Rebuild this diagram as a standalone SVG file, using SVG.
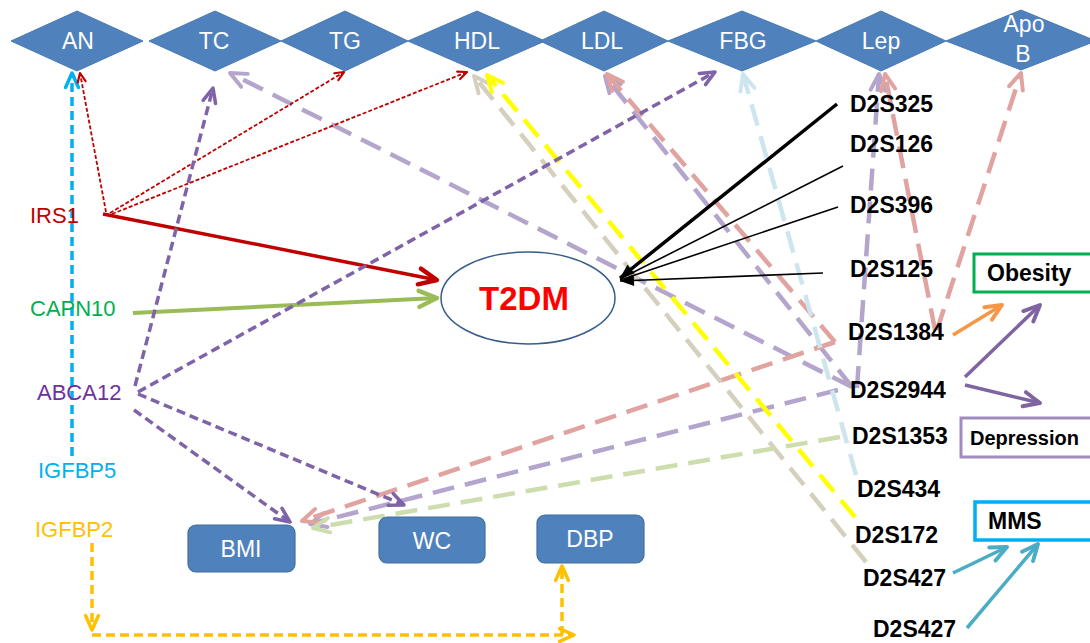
<svg xmlns="http://www.w3.org/2000/svg" width="1090" height="643" viewBox="0 0 1090 643">
<style>
.dia{fill:#4F81BD;stroke:#4A7AB5;stroke-width:1}
.box{fill:#4F81BD;stroke:#41719C;stroke-width:1.2}
.wt{font-family:"Liberation Sans",Arial,sans-serif;font-size:23px;fill:#FFFFFF;text-anchor:middle}
.lbl{font-family:"Liberation Sans",Arial,sans-serif;font-size:22px}
.mk{font-family:"Liberation Sans",Arial,sans-serif;font-size:23px;font-weight:bold;fill:#000000}
.ln{fill:none}
.pastel{fill:none;stroke-width:4.5;stroke-dasharray:22 11}
.dpur{fill:none;stroke:#7F63A8;stroke-width:3.5;stroke-dasharray:9 5}
.rdot{fill:none;stroke:#C00000;stroke-width:1.8;stroke-dasharray:4 2}
.mh{fill:none;stroke-width:2.2;stroke-linecap:round;stroke-linejoin:round}
</style>
<defs>
<marker id="aRed" viewBox="0 0 10 10" refX="10" refY="5" markerUnits="userSpaceOnUse" markerWidth="20" markerHeight="20" orient="auto" overflow="visible"><path class="mh" d="M1,1 L10,5 L1,9" stroke="#C00000"/></marker>
<marker id="aRedS" viewBox="0 0 10 10" refX="10" refY="5" markerUnits="userSpaceOnUse" markerWidth="10" markerHeight="10" orient="auto" overflow="visible"><path class="mh" d="M1,1 L10,5 L1,9" stroke="#C00000"/></marker>
<marker id="aGrn" viewBox="0 0 10 10" refX="10" refY="5" markerUnits="userSpaceOnUse" markerWidth="20" markerHeight="20" orient="auto" overflow="visible"><path class="mh" d="M1,1 L10,5 L1,9" stroke="#9BBB59"/></marker>
<marker id="aDp" viewBox="0 0 10 10" refX="10" refY="5" markerUnits="userSpaceOnUse" markerWidth="16" markerHeight="16" orient="auto" overflow="visible"><path class="mh" d="M1,1 L10,5 L1,9" stroke="#7F63A8"/></marker>
<marker id="aCy" viewBox="0 0 10 10" refX="10" refY="5" markerUnits="userSpaceOnUse" markerWidth="16" markerHeight="16" orient="auto" overflow="visible"><path class="mh" d="M1,1 L10,5 L1,9" stroke="#00B0F0"/></marker>
<marker id="aYo" viewBox="0 0 10 10" refX="10" refY="5" markerUnits="userSpaceOnUse" markerWidth="16" markerHeight="16" orient="auto" overflow="visible"><path class="mh" d="M1,1 L10,5 L1,9" stroke="#FFC000"/></marker>
<marker id="aBlk" viewBox="0 0 10 10" refX="10" refY="5" markerUnits="userSpaceOnUse" markerWidth="14" markerHeight="14" orient="auto" overflow="visible"><path d="M0,1 L10,5 L0,9 Z" fill="#000000"/></marker>
<marker id="aLp" viewBox="0 0 10 10" refX="10" refY="5" markerUnits="userSpaceOnUse" markerWidth="18" markerHeight="18" orient="auto" overflow="visible"><path class="mh" d="M1,1 L10,5 L1,9" stroke="#B4A5CC"/></marker>
<marker id="aPk" viewBox="0 0 10 10" refX="10" refY="5" markerUnits="userSpaceOnUse" markerWidth="18" markerHeight="18" orient="auto" overflow="visible"><path class="mh" d="M1,1 L10,5 L1,9" stroke="#E0A3A0"/></marker>
<marker id="aLb" viewBox="0 0 10 10" refX="10" refY="5" markerUnits="userSpaceOnUse" markerWidth="18" markerHeight="18" orient="auto" overflow="visible"><path class="mh" d="M1,1 L10,5 L1,9" stroke="#CDE5EE"/></marker>
<marker id="aYl" viewBox="0 0 10 10" refX="10" refY="5" markerUnits="userSpaceOnUse" markerWidth="18" markerHeight="18" orient="auto" overflow="visible"><path class="mh" d="M1,1 L10,5 L1,9" stroke="#FFFF00"/></marker>
<marker id="aBg" viewBox="0 0 10 10" refX="10" refY="5" markerUnits="userSpaceOnUse" markerWidth="18" markerHeight="18" orient="auto" overflow="visible"><path class="mh" d="M1,1 L10,5 L1,9" stroke="#D5D0BE"/></marker>
<marker id="aLg" viewBox="0 0 10 10" refX="10" refY="5" markerUnits="userSpaceOnUse" markerWidth="18" markerHeight="18" orient="auto" overflow="visible"><path class="mh" d="M1,1 L10,5 L1,9" stroke="#CDDDAE"/></marker>
<marker id="aOr" viewBox="0 0 10 10" refX="10" refY="5" markerUnits="userSpaceOnUse" markerWidth="18" markerHeight="18" orient="auto" overflow="visible"><path class="mh" d="M1,1 L10,5 L1,9" stroke="#F79646"/></marker>
<marker id="aPu" viewBox="0 0 10 10" refX="10" refY="5" markerUnits="userSpaceOnUse" markerWidth="18" markerHeight="18" orient="auto" overflow="visible"><path class="mh" d="M1,1 L10,5 L1,9" stroke="#8064A2"/></marker>
<marker id="aTl" viewBox="0 0 10 10" refX="10" refY="5" markerUnits="userSpaceOnUse" markerWidth="18" markerHeight="18" orient="auto" overflow="visible"><path class="mh" d="M1,1 L10,5 L1,9" stroke="#4BACC6"/></marker>
</defs>
<rect width="1090" height="643" fill="#FFFFFF"/>

<g id="diamonds">
<g id="AN"><polygon class="dia" points="11,41 77,11 143,41 77,71"/><text class="wt" x="78" y="49">AN</text></g>
<g id="TC"><polygon class="dia" points="149,41 215,11 281,41 215,71"/><text class="wt" x="214" y="49">TC</text></g>
<g id="TG"><polygon class="dia" points="281,41 345,11 408,41 345,71"/><text class="wt" x="345" y="49">TG</text></g>
<g id="HDL"><polygon class="dia" points="408,41 477,11 545,41 477,71"/><text class="wt" x="477" y="49">HDL</text></g>
<g id="LDL"><polygon class="dia" points="540,41 604,11 668,41 604,71"/><text class="wt" x="602" y="49">LDL</text></g>
<g id="FBG"><polygon class="dia" points="668,41 742,11 816,41 742,71"/><text class="wt" x="743" y="49">FBG</text></g>
<g id="Lep"><polygon class="dia" points="816,41 881,11 946,41 881,71"/><text class="wt" x="881" y="49">Lep</text></g>
<g id="ApoB"><polygon class="dia" points="946,41 1021,10 1096,41 1021,70"/><text class="wt" x="1024" y="32">Apo</text><text class="wt" x="1023" y="62">B</text></g>
</g>

<g id="connectors">
<line class="pastel" x1="852" y1="387" x2="230" y2="73" stroke="#B4A5CC" marker-end="url(#aLp)"/>
<line class="pastel" x1="852" y1="387" x2="605" y2="76" stroke="#B4A5CC" marker-end="url(#aLp)"/>
<line class="pastel" x1="857" y1="388" x2="879" y2="74" stroke="#B4A5CC" marker-end="url(#aLp)"/>
<line class="pastel" x1="838" y1="390" x2="310" y2="524" stroke="#B4A5CC" marker-end="url(#aLp)"/>
<line class="pastel" x1="835" y1="342" x2="607" y2="74" stroke="#E0A3A0" marker-end="url(#aPk)"/>
<line class="pastel" x1="835" y1="342" x2="302" y2="521" stroke="#E0A3A0" marker-end="url(#aPk)"/>
<line class="pastel" x1="935" y1="330" x2="885" y2="74" stroke="#E0A3A0" marker-end="url(#aPk)"/>
<line class="pastel" x1="937" y1="330" x2="1021" y2="73" stroke="#E0A3A0" marker-end="url(#aPk)"/>
<line class="pastel" x1="856" y1="475" x2="743" y2="74" stroke="#CDE5EE" marker-end="url(#aLb)"/>
<line class="pastel" x1="866" y1="562" x2="474" y2="76" stroke="#D5D0BE" marker-end="url(#aBg)"/>
<line class="pastel" x1="855" y1="517" x2="487" y2="75" stroke="#FFFF00" marker-end="url(#aYl)"/>
<line class="pastel" x1="840" y1="437" x2="313" y2="528" stroke="#CDDDAE" marker-end="url(#aLg)"/>
<line class="ln" x1="72" y1="456" x2="72" y2="73" stroke="#00B0F0" stroke-width="3.5" stroke-dasharray="9 5" marker-end="url(#aCy)"/>
<line class="rdot" x1="106" y1="212" x2="80" y2="73" marker-end="url(#aRedS)"/>
<line class="rdot" x1="110" y1="213" x2="344" y2="72" marker-end="url(#aRedS)"/>
<line class="rdot" x1="112" y1="214" x2="467" y2="72" marker-end="url(#aRedS)"/>
<line class="ln" x1="103" y1="214" x2="437" y2="280" stroke="#C00000" stroke-width="3.5" marker-end="url(#aRed)"/>
<line class="ln" x1="133" y1="313" x2="437" y2="298" stroke="#9BBB59" stroke-width="4" marker-end="url(#aGrn)"/>
<line class="dpur" x1="135" y1="386" x2="213" y2="88" marker-end="url(#aDp)"/>
<line class="dpur" x1="138" y1="392" x2="715" y2="72" marker-end="url(#aDp)"/>
<line class="dpur" x1="134" y1="410" x2="290" y2="522" marker-end="url(#aDp)"/>
<line class="dpur" x1="138" y1="394" x2="404" y2="505" marker-end="url(#aDp)"/>
<line class="ln" x1="92" y1="543" x2="92" y2="630" stroke="#FFC000" stroke-width="3.5" stroke-dasharray="9 5" marker-end="url(#aYo)"/>
<line class="ln" x1="92" y1="635" x2="574" y2="635" stroke="#FFC000" stroke-width="3.5" stroke-dasharray="9 5" marker-end="url(#aYo)"/>
<line class="ln" x1="562" y1="635" x2="562" y2="566" stroke="#FFC000" stroke-width="3.5" stroke-dasharray="9 5" marker-end="url(#aYo)"/>
<line class="ln" x1="837" y1="104" x2="620" y2="278" stroke="#000000" stroke-width="3.5" marker-end="url(#aBlk)"/>
<line class="ln" x1="843" y1="166" x2="620" y2="279" stroke="#000000" stroke-width="1.6"/>
<line class="ln" x1="838" y1="207" x2="620" y2="280" stroke="#000000" stroke-width="1.6"/>
<line class="ln" x1="823" y1="273" x2="620" y2="281" stroke="#000000" stroke-width="1.6" marker-end="url(#aBlk)"/>
<line class="ln" x1="953" y1="335" x2="1002" y2="305" stroke="#F79646" stroke-width="3.5" marker-end="url(#aOr)"/>
<line class="ln" x1="965" y1="377" x2="1040" y2="305" stroke="#8064A2" stroke-width="3.5" marker-end="url(#aPu)"/>
<line class="ln" x1="965" y1="385" x2="1040" y2="403" stroke="#8064A2" stroke-width="3.5" marker-end="url(#aPu)"/>
<line class="ln" x1="953" y1="573" x2="1007" y2="547" stroke="#4BACC6" stroke-width="3.5" marker-end="url(#aTl)"/>
<line class="ln" x1="967" y1="628" x2="1038" y2="544" stroke="#4BACC6" stroke-width="3.5" marker-end="url(#aTl)"/>
</g>

<g id="T2DM"><ellipse cx="528" cy="298" rx="87" ry="46" fill="#FFFFFF" stroke="#385D8A" stroke-width="1.5"/><text x="524" y="310" font-family="'Liberation Sans',Arial,sans-serif" font-size="33" font-weight="bold" fill="#FF0000" text-anchor="middle">T2DM</text></g>

<g id="IRS1"><text class="lbl" x="30" y="223" fill="#C00000">IRS1</text></g>
<g id="CAPN10"><text class="lbl" x="30" y="316" fill="#00B050">CAPN10</text></g>
<g id="ABCA12"><text class="lbl" x="37" y="400" fill="#7030A0">ABCA12</text></g>
<g id="IGFBP5"><text class="lbl" x="38" y="478" fill="#00B0F0">IGFBP5</text></g>
<g id="IGFBP2"><text class="lbl" x="35" y="537" fill="#FFC000">IGFBP2</text></g>

<g id="BMI"><rect class="box" x="188" y="525" width="107" height="47" rx="8"/><text class="wt" x="241" y="557">BMI</text></g>
<g id="WC"><rect class="box" x="379" y="517" width="106" height="46" rx="8"/><text class="wt" x="432" y="549">WC</text></g>
<g id="DBP"><rect class="box" x="537" y="515" width="107" height="48" rx="8"/><text class="wt" x="590" y="547">DBP</text></g>

<g id="D2S325"><text class="mk" x="850" y="112">D2S325</text></g>
<g id="D2S126"><text class="mk" x="850" y="152">D2S126</text></g>
<g id="D2S396"><text class="mk" x="850" y="213">D2S396</text></g>
<g id="D2S125"><text class="mk" x="850" y="277">D2S125</text></g>
<g id="D2S1384"><text class="mk" x="848" y="340">D2S1384</text></g>
<g id="D2S2944"><text class="mk" x="850" y="398">D2S2944</text></g>
<g id="D2S1353"><text class="mk" x="852" y="444">D2S1353</text></g>
<g id="D2S434"><text class="mk" x="857" y="497">D2S434</text></g>
<g id="D2S172"><text class="mk" x="855" y="543">D2S172</text></g>
<g id="D2S427a"><text class="mk" x="863" y="586">D2S427</text></g>
<g id="D2S427b"><text class="mk" x="873" y="637">D2S427</text></g>

<g id="Obesity"><rect x="974" y="254" width="130" height="38" fill="#FFFFFF" stroke="#00B050" stroke-width="3"/><text class="mk" x="987" y="281">Obesity</text></g>
<g id="Depression"><rect x="961" y="418" width="140" height="39" fill="#FFFFFF" stroke="#A08BC0" stroke-width="3"/><text class="mk" x="970" y="445" style="font-size:20px">Depression</text></g>
<g id="MMS"><rect x="975" y="502" width="130" height="38" fill="#FFFFFF" stroke="#00B0F0" stroke-width="3.5"/><text class="mk" x="988" y="529">MMS</text></g>
</svg>
